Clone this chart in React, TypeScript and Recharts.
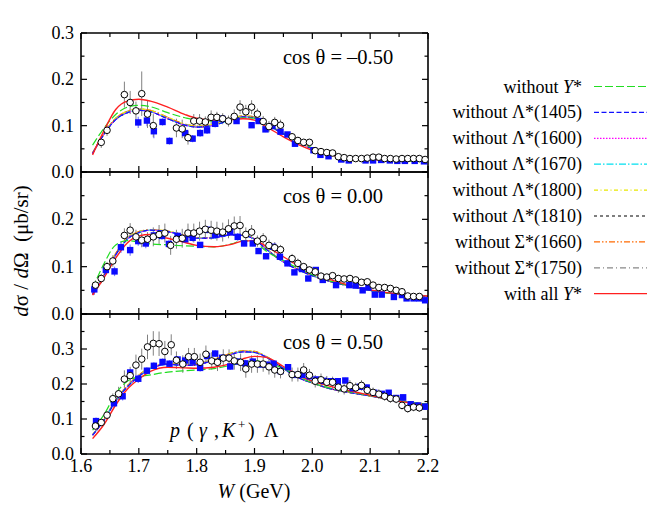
import React from 'react';
import { ComposedChart, XAxis, YAxis, Line, Scatter, ErrorBar } from 'recharts';

// ---------- axes ----------
const W_TICKS = [1.6, 1.65, 1.7, 1.75, 1.8, 1.85, 1.9, 1.95, 2.0, 2.05, 2.1, 2.15, 2.2];
const W_MAJOR = [1.6, 1.7, 1.8, 1.9, 2.0, 2.1, 2.2];
const Y_TICKS_03 = [0, 0.05, 0.1, 0.15, 0.2, 0.25, 0.3];
const Y_TICKS_04 = [0, 0.05, 0.1, 0.15, 0.2, 0.25, 0.3, 0.35, 0.4];
const Y_LABELS_P1 = [0, 0.1, 0.2, 0.3];
const Y_LABELS_P2 = [0, 0.1, 0.2];
const Y_LABELS_P3 = [0, 0.1, 0.2, 0.3];

// ---------- model curves (W knots) ----------
const KNOTS = [1.62, 1.64, 1.66, 1.68, 1.70, 1.72, 1.75, 1.78, 1.80, 1.83, 1.86, 1.88, 1.90, 1.92, 1.95, 1.98, 2.00, 2.03, 2.06, 2.10, 2.15, 2.20];

// cos = -0.50
const P1_RED = [0.037, 0.090, 0.135, 0.153, 0.157, 0.153, 0.140, 0.124, 0.116, 0.112, 0.113, 0.115, 0.112, 0.098, 0.076, 0.057, 0.047, 0.037, 0.031, 0.027, 0.025, 0.024];
const P1_GREEN = [0.058, 0.095, 0.124, 0.140, 0.144, 0.141, 0.128, 0.117, 0.112, 0.110, 0.113, 0.117, 0.116, 0.104, 0.083, 0.064, 0.052, 0.040, 0.033, 0.028, 0.024, 0.022];
const P1_CLUSTER_A = [0.040, 0.082, 0.113, 0.128, 0.133, 0.130, 0.115, 0.101, 0.097, 0.101, 0.113, 0.119, 0.117, 0.104, 0.082, 0.062, 0.050, 0.039, 0.032, 0.028, 0.025, 0.023];
const P1_CLUSTER_B = [0.041, 0.084, 0.116, 0.131, 0.136, 0.133, 0.118, 0.103, 0.099, 0.103, 0.115, 0.121, 0.119, 0.105, 0.083, 0.063, 0.051, 0.040, 0.033, 0.028, 0.025, 0.023];

// cos = 0.00
const P2_RED = [0.040, 0.077, 0.118, 0.150, 0.165, 0.168, 0.160, 0.151, 0.145, 0.142, 0.147, 0.154, 0.155, 0.143, 0.121, 0.099, 0.087, 0.073, 0.062, 0.051, 0.042, 0.038];
const P2_GREEN = [0.054, 0.107, 0.146, 0.155, 0.152, 0.148, 0.146, 0.144, 0.143, 0.142, 0.148, 0.155, 0.152, 0.133, 0.113, 0.094, 0.083, 0.070, 0.061, 0.050, 0.042, 0.037];
const P2_CLUSTER_A = [0.042, 0.082, 0.125, 0.158, 0.172, 0.177, 0.174, 0.165, 0.160, 0.161, 0.167, 0.166, 0.158, 0.137, 0.110, 0.091, 0.081, 0.069, 0.060, 0.050, 0.042, 0.037];
const P2_CLUSTER_B = [0.043, 0.084, 0.128, 0.160, 0.174, 0.178, 0.175, 0.166, 0.161, 0.162, 0.168, 0.167, 0.159, 0.138, 0.111, 0.092, 0.081, 0.069, 0.060, 0.050, 0.042, 0.037];

// cos = 0.50
const P3_RED = [0.044, 0.085, 0.140, 0.185, 0.214, 0.236, 0.248, 0.246, 0.245, 0.248, 0.259, 0.272, 0.279, 0.276, 0.250, 0.222, 0.208, 0.194, 0.182, 0.168, 0.151, 0.139];
const P3_GREEN = [0.068, 0.113, 0.172, 0.208, 0.220, 0.226, 0.234, 0.238, 0.240, 0.244, 0.254, 0.262, 0.266, 0.262, 0.244, 0.218, 0.203, 0.189, 0.179, 0.167, 0.152, 0.141];
const P3_CLUSTER_A = [0.054, 0.097, 0.152, 0.192, 0.222, 0.244, 0.256, 0.253, 0.255, 0.268, 0.285, 0.292, 0.290, 0.277, 0.244, 0.215, 0.203, 0.187, 0.177, 0.166, 0.153, 0.142];
const P3_CLUSTER_B = [0.055, 0.099, 0.155, 0.195, 0.225, 0.247, 0.258, 0.255, 0.258, 0.271, 0.288, 0.295, 0.293, 0.279, 0.246, 0.216, 0.203, 0.187, 0.177, 0.166, 0.153, 0.142];

// ---------- data points [W, value, error] ----------
const P1_CIRCLES: number[][] = [
  [1.635, 0.064, 0.012], [1.645, 0.090, 0.012], [1.675, 0.167, 0.028], [1.685, 0.150, 0.025], [1.695, 0.132, 0.02],
  [1.705, 0.169, 0.048], [1.715, 0.125, 0.03], [1.725, 0.100, 0.025], [1.765, 0.095, 0.02], [1.775, 0.093, 0.02],
  [1.785, 0.074, 0.015], [1.795, 0.110, 0.015], [1.805, 0.110, 0.015], [1.815, 0.108, 0.012], [1.825, 0.118, 0.015],
  [1.835, 0.118, 0.012], [1.845, 0.115, 0.012], [1.855, 0.110, 0.012], [1.865, 0.120, 0.015], [1.875, 0.140, 0.015],
  [1.885, 0.130, 0.015], [1.895, 0.140, 0.015], [1.905, 0.125, 0.012], [1.915, 0.109, 0.012], [1.925, 0.098, 0.012],
  [1.935, 0.107, 0.012], [1.945, 0.101, 0.012], [1.965, 0.076, 0.008], [1.975, 0.068, 0.007], [1.985, 0.064, 0.006],
  [1.995, 0.064, 0.006], [2.005, 0.046, 0.005], [2.015, 0.044, 0.005], [2.025, 0.042, 0.005], [2.035, 0.041, 0.004],
  [2.045, 0.033, 0.004], [2.055, 0.031, 0.004], [2.065, 0.029, 0.004], [2.075, 0.029, 0.004], [2.085, 0.029, 0.004],
  [2.095, 0.030, 0.004], [2.105, 0.032, 0.004], [2.115, 0.032, 0.004], [2.125, 0.029, 0.004], [2.135, 0.029, 0.004],
  [2.145, 0.028, 0.004], [2.155, 0.029, 0.004], [2.165, 0.029, 0.004], [2.175, 0.029, 0.004], [2.185, 0.029, 0.004],
  [2.195, 0.027, 0.004],
];
const P1_SQUARES: number[][] = [
  [1.699, 0.107, 0.012], [1.714, 0.111, 0.012], [1.726, 0.088, 0.015], [1.741, 0.108, 0.008], [1.753, 0.067, 0.008],
  [1.780, 0.084, 0.01], [1.793, 0.072, 0.008], [1.806, 0.084, 0.008], [1.818, 0.090, 0.008], [1.832, 0.104, 0.008],
  [1.844, 0.115, 0.008], [1.869, 0.110, 0.006], [1.895, 0.101, 0.006], [1.907, 0.110, 0.006], [1.919, 0.092, 0.006],
  [1.931, 0.099, 0.006], [1.945, 0.087, 0.005], [1.957, 0.081, 0.005], [1.970, 0.061, 0.005], [2.002, 0.047, 0.004],
  [2.014, 0.037, 0.004], [2.028, 0.034, 0.004], [2.050, 0.027, 0.003], [2.063, 0.025, 0.003], [2.092, 0.025, 0.003],
  [2.105, 0.025, 0.003], [2.119, 0.026, 0.003], [2.134, 0.025, 0.003], [2.147, 0.024, 0.003], [2.160, 0.024, 0.003],
  [2.177, 0.024, 0.003], [2.193, 0.023, 0.003],
];

const P2_CIRCLES: number[][] = [
  [1.625, 0.061, 0.01], [1.635, 0.075, 0.01], [1.645, 0.100, 0.01], [1.655, 0.112, 0.012], [1.675, 0.166, 0.015],
  [1.685, 0.177, 0.015], [1.695, 0.163, 0.015], [1.705, 0.156, 0.015], [1.715, 0.158, 0.015], [1.725, 0.163, 0.02],
  [1.735, 0.168, 0.02], [1.745, 0.171, 0.02], [1.755, 0.145, 0.02], [1.765, 0.158, 0.02], [1.775, 0.160, 0.02],
  [1.785, 0.171, 0.02], [1.795, 0.171, 0.02], [1.805, 0.175, 0.02], [1.815, 0.179, 0.02], [1.825, 0.177, 0.02],
  [1.835, 0.175, 0.02], [1.845, 0.173, 0.02], [1.855, 0.180, 0.02], [1.865, 0.186, 0.02], [1.875, 0.187, 0.02],
  [1.885, 0.168, 0.015], [1.895, 0.173, 0.015], [1.905, 0.154, 0.012], [1.915, 0.159, 0.012], [1.925, 0.145, 0.012],
  [1.935, 0.140, 0.012], [1.945, 0.136, 0.01], [1.965, 0.117, 0.01], [1.975, 0.107, 0.01], [1.985, 0.100, 0.008],
  [1.995, 0.093, 0.008], [2.005, 0.089, 0.008], [2.015, 0.080, 0.007], [2.025, 0.078, 0.007], [2.035, 0.081, 0.007],
  [2.045, 0.075, 0.006], [2.055, 0.074, 0.006], [2.065, 0.075, 0.006], [2.075, 0.072, 0.006], [2.085, 0.067, 0.006],
  [2.095, 0.068, 0.006], [2.105, 0.061, 0.005], [2.115, 0.056, 0.005], [2.125, 0.056, 0.005], [2.135, 0.054, 0.005],
  [2.145, 0.050, 0.005], [2.155, 0.047, 0.005], [2.165, 0.038, 0.004], [2.175, 0.037, 0.004], [2.185, 0.037, 0.004],
];
const P2_SQUARES: number[][] = [
  [1.623, 0.052, 0.012], [1.643, 0.093, 0.01], [1.658, 0.090, 0.01], [1.669, 0.141, 0.012], [1.685, 0.135, 0.012],
  [1.699, 0.154, 0.01], [1.712, 0.149, 0.01], [1.726, 0.166, 0.008], [1.740, 0.165, 0.008], [1.752, 0.148, 0.008],
  [1.767, 0.165, 0.008], [1.780, 0.158, 0.008], [1.793, 0.161, 0.008], [1.806, 0.146, 0.006], [1.818, 0.178, 0.008],
  [1.832, 0.167, 0.008], [1.844, 0.170, 0.008], [1.858, 0.173, 0.008], [1.871, 0.163, 0.008], [1.882, 0.149, 0.006],
  [1.897, 0.149, 0.006], [1.907, 0.133, 0.006], [1.920, 0.122, 0.006], [1.932, 0.142, 0.006], [1.944, 0.121, 0.006],
  [1.957, 0.107, 0.006], [1.969, 0.088, 0.005], [1.982, 0.095, 0.005], [1.993, 0.075, 0.005], [2.006, 0.093, 0.005],
  [2.018, 0.072, 0.005], [2.041, 0.061, 0.004], [2.064, 0.061, 0.004], [2.075, 0.060, 0.004], [2.087, 0.050, 0.004],
  [2.097, 0.056, 0.004], [2.108, 0.041, 0.004], [2.120, 0.041, 0.004], [2.141, 0.036, 0.004], [2.155, 0.040, 0.004],
  [2.163, 0.033, 0.004], [2.175, 0.033, 0.004], [2.185, 0.033, 0.004], [2.195, 0.029, 0.004],
];

const P3_CIRCLES: number[][] = [
  [1.625, 0.080, 0.01], [1.635, 0.090, 0.01], [1.645, 0.111, 0.012], [1.655, 0.158, 0.015], [1.665, 0.172, 0.02],
  [1.675, 0.214, 0.025], [1.685, 0.224, 0.025], [1.695, 0.254, 0.03], [1.705, 0.271, 0.03], [1.715, 0.306, 0.035],
  [1.725, 0.316, 0.035], [1.735, 0.315, 0.035], [1.745, 0.293, 0.03], [1.756, 0.312, 0.03], [1.765, 0.268, 0.025],
  [1.776, 0.257, 0.025], [1.786, 0.278, 0.025], [1.796, 0.278, 0.025], [1.806, 0.262, 0.025], [1.816, 0.285, 0.025],
  [1.826, 0.266, 0.025], [1.836, 0.262, 0.025], [1.846, 0.274, 0.025], [1.856, 0.274, 0.025], [1.865, 0.266, 0.025],
  [1.876, 0.262, 0.025], [1.885, 0.243, 0.025], [1.895, 0.257, 0.025], [1.905, 0.257, 0.025], [1.915, 0.257, 0.022],
  [1.925, 0.249, 0.022], [1.935, 0.240, 0.022], [1.945, 0.236, 0.02], [1.965, 0.227, 0.02], [1.975, 0.227, 0.02],
  [1.985, 0.240, 0.02], [1.995, 0.225, 0.018], [2.005, 0.208, 0.018], [2.015, 0.212, 0.018], [2.025, 0.205, 0.018],
  [2.035, 0.205, 0.016], [2.045, 0.191, 0.016], [2.055, 0.186, 0.016], [2.065, 0.195, 0.016], [2.075, 0.189, 0.015],
  [2.085, 0.196, 0.015], [2.095, 0.182, 0.015], [2.105, 0.176, 0.014], [2.115, 0.171, 0.014], [2.125, 0.165, 0.013],
  [2.135, 0.159, 0.013], [2.145, 0.157, 0.012], [2.155, 0.139, 0.012], [2.165, 0.130, 0.012], [2.175, 0.134, 0.012],
  [2.185, 0.132, 0.012],
];
const P3_SQUARES: number[][] = [
  [1.626, 0.094, 0.01], [1.657, 0.145, 0.012], [1.672, 0.165, 0.012], [1.685, 0.233, 0.01], [1.699, 0.215, 0.012],
  [1.714, 0.238, 0.01], [1.726, 0.252, 0.01], [1.741, 0.263, 0.01], [1.753, 0.258, 0.01], [1.767, 0.270, 0.01],
  [1.780, 0.267, 0.01], [1.793, 0.264, 0.01], [1.806, 0.246, 0.01], [1.818, 0.280, 0.01], [1.832, 0.287, 0.01],
  [1.844, 0.275, 0.01], [1.858, 0.250, 0.01], [1.871, 0.264, 0.01], [1.884, 0.259, 0.01], [1.897, 0.264, 0.01],
  [1.910, 0.256, 0.01], [1.922, 0.255, 0.01], [1.933, 0.258, 0.01], [1.945, 0.237, 0.01], [1.958, 0.248, 0.008],
  [1.970, 0.226, 0.008], [1.983, 0.226, 0.008], [1.995, 0.222, 0.008], [2.007, 0.213, 0.008], [2.020, 0.209, 0.008],
  [2.032, 0.208, 0.008], [2.044, 0.208, 0.008], [2.057, 0.210, 0.008], [2.070, 0.188, 0.008], [2.082, 0.192, 0.008],
  [2.094, 0.190, 0.008], [2.107, 0.175, 0.008], [2.120, 0.172, 0.008], [2.132, 0.175, 0.008], [2.145, 0.160, 0.008],
  [2.157, 0.162, 0.008], [2.170, 0.142, 0.008], [2.182, 0.138, 0.008], [2.195, 0.135, 0.008],
];

// ---------- legend ----------
const LEGEND_LABELS = ['without Y*', 'without Λ*(1405)', 'without Λ*(1600)', 'without Λ*(1670)', 'without Λ*(1800)', 'without Λ*(1810)', 'without Σ*(1660)', 'without Σ*(1750)', 'with all Y*'];
const LEGEND_COLORS = ['#22dd22', '#1010ff', '#ff00ff', '#00e0f0', '#e8e800', '#000000', '#ff6a00', '#888888', '#ff2020'];
const LEGEND_DASH = ['8 3', '5 2.5', '1.5 1.5', '7 2 1.5 2', '4 2.5 1 2.5', '3 3', '6 2 1.5 2 1.5 2', '6 3 1 3', ''];
// which curve each model uses: 'green' | 'A' | 'B' | 'red'
const MODEL_CURVE = ['green', 'A', 'A', 'A', 'B', 'A', 'B', 'B', 'red'];
const DRAW_ORDER = [7, 6, 5, 4, 3, 2, 1, 0, 8];

const FONT = '"Liberation Serif", "Times New Roman", Times, "DejaVu Serif", serif';
const TXT: React.CSSProperties = { fontFamily: FONT };

const near = (a: number, list: number[]) => list.some((m) => Math.abs(m - a) < 1e-6);

const toCurve = (arr: number[]) => KNOTS.map((x, i) => ({ x, y: arr[i] }));
const toPts = (arr: number[][]) => arr.map(([x, y, e]) => ({ x, y, e }));

const PANELS = [
  { top: 33, bottom: 172, yMax: 0.3, yTicks: Y_TICKS_03, yLabels: Y_LABELS_P1, xLabels: false,
    circles: P1_CIRCLES, squares: P1_SQUARES, red: P1_RED, green: P1_GREEN, A: P1_CLUSTER_A, B: P1_CLUSTER_B },
  { top: 172, bottom: 314, yMax: 0.3, yTicks: Y_TICKS_03, yLabels: Y_LABELS_P2, xLabels: false,
    circles: P2_CIRCLES, squares: P2_SQUARES, red: P2_RED, green: P2_GREEN, A: P2_CLUSTER_A, B: P2_CLUSTER_B },
  { top: 314, bottom: 454, yMax: 0.4, yTicks: Y_TICKS_04, yLabels: Y_LABELS_P3, xLabels: true,
    circles: P3_CIRCLES, squares: P3_SQUARES, red: P3_RED, green: P3_GREEN, A: P3_CLUSTER_A, B: P3_CLUSTER_B },
];

const CHART_W = 664;
const CHART_H = 512;
const PLOT_LEFT = 81;
const PLOT_RIGHT = 428;
const AX = 1; // thickness reserved for the frame axes

const makeBottomTick = (labels: boolean) => (p: any) => {
  const v = p.payload.value;
  const major = near(v, W_MAJOR);
  return (
    <g>
      <line x1={p.x} x2={p.x} y1={p.y} y2={p.y - (major ? 6 : 4)} stroke="#000" strokeWidth={1.2} />
      {labels && major ? (
        <text x={p.x} y={p.y + 18} textAnchor="middle" fontSize={18} style={TXT} fill="#000">{v.toFixed(1)}</text>
      ) : null}
    </g>
  );
};
const TopTick = (p: any) => {
  const major = near(p.payload.value, W_MAJOR);
  return <line x1={p.x} x2={p.x} y1={p.y} y2={p.y + (major ? 6 : 4)} stroke="#000" strokeWidth={1.2} />;
};
const makeLeftTick = (labels: number[]) => (p: any) => {
  const v = p.payload.value;
  const major = near(v, [0, 0.1, 0.2, 0.3, 0.4]);
  return (
    <g>
      <line x1={p.x} x2={p.x + (major ? 6 : 3.5)} y1={p.y} y2={p.y} stroke="#000" strokeWidth={1.2} />
      {near(v, labels) ? (
        <text x={p.x - 7} y={p.y + 6} textAnchor="end" fontSize={18} style={TXT} fill="#000">{v.toFixed(1)}</text>
      ) : null}
    </g>
  );
};
const RightTick = (p: any) => {
  const major = near(p.payload.value, [0, 0.1, 0.2, 0.3, 0.4]);
  return <line x1={p.x} x2={p.x - (major ? 6 : 3.5)} y1={p.y} y2={p.y} stroke="#000" strokeWidth={1.2} />;
};

const CircleShape = (p: any) => <circle cx={p.cx} cy={p.cy} r={3.3} fill="#fff" stroke="#000" strokeWidth={1} />;
const SquareShape = (p: any) => <rect x={p.cx - 3.2} y={p.cy - 3.2} width={6.4} height={6.4} fill="#0a0aff" />;

const FRAME = { stroke: '#000', strokeWidth: 1.6 };

function Panel({ cfg }: { cfg: any }) {
  const curveFor = (k: string) => toCurve(cfg[k]);
  return (
    <div style={{ position: 'absolute', left: 0, top: 0 }}>
      <ComposedChart
        width={CHART_W}
        height={CHART_H}
        margin={{ top: cfg.top - AX, bottom: CHART_H - cfg.bottom - AX, left: PLOT_LEFT - 81, right: CHART_W - PLOT_RIGHT - AX }}
      >
        <XAxis type="number" dataKey="x" domain={[1.6, 2.2]} allowDataOverflow ticks={W_TICKS} interval={0}
          height={AX} tickSize={0} tickMargin={0} tickLine={false} axisLine={FRAME}
          tick={makeBottomTick(cfg.xLabels)} />
        <XAxis xAxisId="top" orientation="top" type="number" dataKey="x" domain={[1.6, 2.2]} allowDataOverflow ticks={W_TICKS} interval={0}
          height={AX} tickSize={0} tickMargin={0} tickLine={false} axisLine={FRAME}
          tick={TopTick} />
        <YAxis type="number" dataKey="y" domain={[0, cfg.yMax]} allowDataOverflow ticks={cfg.yTicks} interval={0}
          width={81} tickSize={0} tickMargin={0} tickLine={false} axisLine={FRAME}
          tick={makeLeftTick(cfg.yLabels)} />
        <YAxis yAxisId="right" orientation="right" type="number" dataKey="y" domain={[0, cfg.yMax]} allowDataOverflow ticks={cfg.yTicks} interval={0}
          width={AX} tickSize={0} tickMargin={0} tickLine={false} axisLine={FRAME}
          tick={RightTick} />
        <Scatter data={toPts(cfg.squares)} shape={SquareShape} isAnimationActive={false}>
          <ErrorBar dataKey="e" direction="y" width={0} stroke="#7f7fff" strokeWidth={1.2} isAnimationActive={false} />
        </Scatter>
        <Scatter data={toPts(cfg.circles)} shape={CircleShape} isAnimationActive={false}>
          <ErrorBar dataKey="e" direction="y" width={0} stroke="#808080" strokeWidth={1} isAnimationActive={false} />
        </Scatter>
        {DRAW_ORDER.map((m) => (
          <Line
            key={m}
            data={curveFor(MODEL_CURVE[m])}
            dataKey="y"
            type="monotone"
            stroke={LEGEND_COLORS[m]}
            strokeWidth={m === 8 ? 1.4 : 1.2}
            strokeDasharray={LEGEND_DASH[m] || undefined}
            dot={false}
            activeDot={false}
            isAnimationActive={false}
          />
        ))}
      </ComposedChart>
    </div>
  );
}

function LegendLabel({ text }: { text: string }) {
  const idx = text.indexOf('Y*');
  if (idx >= 0) {
    return (
      <>
        {text.slice(0, idx)}
        <tspan fontStyle="italic">Y</tspan>
        {'*'}
      </>
    );
  }
  return <>{text}</>;
}

export default function App() {
  return (
    <div style={{ position: 'absolute', left: 0, top: 0, width: CHART_W, height: CHART_H, background: '#fff', overflow: 'hidden', fontFamily: FONT }}>
      {PANELS.map((cfg, i) => (
        <Panel key={i} cfg={cfg} />
      ))}
      <svg width={CHART_W} height={CHART_H} style={{ position: 'absolute', left: 0, top: 0, pointerEvents: 'none', fontFamily: FONT }}>
        <text x={283} y={64} fontSize={20.5} style={TXT} fill="#000">cos θ = –0.50</text>
        <text x={283} y={203} fontSize={20.5} style={TXT} fill="#000">cos θ = 0.00</text>
        <text x={283} y={349} fontSize={20.5} style={TXT} fill="#000">cos θ = 0.50</text>
        <text y={437} fontSize={20} style={TXT} fill="#000">
          <tspan x={170} fontStyle="italic">p</tspan>
          <tspan x={187}>(</tspan>
          <tspan x={199} fontStyle="italic">γ</tspan>
          <tspan x={214}>,</tspan>
          <tspan x={222} fontStyle="italic">K</tspan>
          <tspan x={238} y={429} fontSize={13}>+</tspan>
          <tspan x={248} y={437}>)</tspan>
          <tspan x={264}>Λ</tspan>
        </text>
        <text x={254} y={498} fontSize={20} textAnchor="middle" style={TXT} fill="#000">
          <tspan fontStyle="italic">W</tspan>{' (GeV)'}
        </text>
        <text transform="translate(21,251) rotate(-90)" textAnchor="middle" dominantBaseline="central" fontSize={21} style={TXT} fill="#000" xmlSpace="preserve">
          <tspan fontStyle="italic">d</tspan>σ / <tspan fontStyle="italic">d</tspan>Ω  (μb/sr)
        </text>
        {LEGEND_LABELS.map((lab, i) => {
          const y = 86.5 + i * 25.9;
          return (
            <g key={i}>
              <text x={582} y={y + 6} textAnchor="end" fontSize={18} style={TXT} fill="#000"><LegendLabel text={lab} /></text>
              <line x1={594} x2={647} y1={y} y2={y} stroke={LEGEND_COLORS[i]} strokeWidth={1.2}
                strokeDasharray={LEGEND_DASH[i] || undefined} />
            </g>
          );
        })}
      </svg>
    </div>
  );
}
